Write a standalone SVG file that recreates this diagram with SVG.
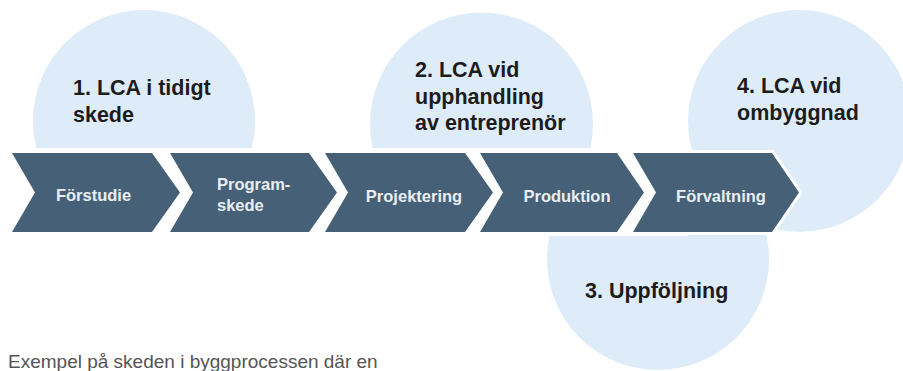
<svg xmlns="http://www.w3.org/2000/svg" width="903" height="371" viewBox="0 0 903 371">
<style>
.circle{fill:#deecf9}
.chev{fill:#466177;stroke:#ffffff;stroke-width:6;paint-order:stroke;stroke-linejoin:round}
.lbl{font-family:"Liberation Sans",Arial,sans-serif;font-weight:bold;font-size:21.5px;fill:#1c1c1c}
.clbl{font-family:"Liberation Sans",Arial,sans-serif;font-weight:bold;font-size:16.5px;fill:#e8eef2}
.cap{font-family:"Liberation Sans",Arial,sans-serif;font-size:19px;fill:#555555}
</style>
<rect width="903" height="371" fill="#ffffff"/>
<g id="lca1"><circle class="circle" cx="144" cy="121" r="111"/></g>
<g id="lca2"><circle class="circle" cx="481.5" cy="124" r="111.5"/></g>
<g id="lca3"><circle class="circle" cx="658" cy="259" r="111"/></g>
<rect x="0" y="148" width="688" height="88" fill="#ffffff"/>
<g id="lca4"><circle class="circle" cx="799" cy="121" r="111"/></g>
<g id="connectors"></g>
<g id="forstudie">
<polygon class="chev" points="12,153 152,153 180,192.5 152,232 12,232 35,192.5"/>
<text class="clbl" x="93.5" y="201" text-anchor="middle">Förstudie</text>
</g>
<g id="programskede">
<polygon class="chev" points="170,153 309,153 337,192.5 309,232 170,232 193,192.5"/>
<text class="clbl" x="217" y="190">Program-</text>
<text class="clbl" x="217" y="211">skede</text>
</g>
<g id="projektering">
<polygon class="chev" points="325,153 465,153 493,192.5 465,232 325,232 348,192.5"/>
<text class="clbl" x="414" y="202" text-anchor="middle">Projektering</text>
</g>
<g id="produktion">
<polygon class="chev" points="480,153 617,153 644,192.5 617,232 480,232 503,192.5"/>
<text class="clbl" x="567" y="202" text-anchor="middle">Produktion</text>
</g>
<g id="forvaltning">
<polygon class="chev" points="633,153 772,153 799,192.5 772,232 633,232 656,192.5"/>
<text class="clbl" x="721" y="202" text-anchor="middle">Förvaltning</text>
</g>
<g id="lca1-text">
<text class="lbl" x="73" y="95">1. LCA i tidigt</text>
<text class="lbl" x="73" y="122">skede</text>
</g>
<g id="lca2-text">
<text class="lbl" x="415" y="77">2. LCA vid</text>
<text class="lbl" x="415" y="103.5">upphandling</text>
<text class="lbl" x="415" y="130">av entreprenör</text>
</g>
<g id="lca3-text">
<text class="lbl" x="585" y="298">3. Uppföljning</text>
</g>
<g id="lca4-text">
<text class="lbl" x="737" y="93">4. LCA vid</text>
<text class="lbl" x="737" y="120">ombyggnad</text>
</g>
<text class="cap" x="8" y="368">Exempel på skeden i byggprocessen där en</text>
</svg>
